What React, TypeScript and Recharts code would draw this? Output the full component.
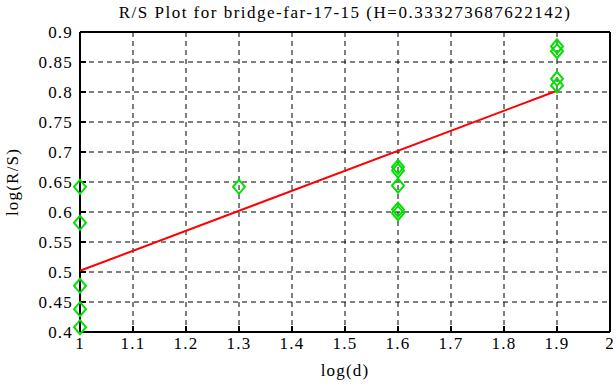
import {
  ComposedChart,
  CartesianGrid,
  Scatter,
  XAxis,
  YAxis,
} from "recharts";

const TITLE = "R/S Plot for bridge-far-17-15 (H=0.333273687622142)";
const X_TICKS = [1, 1.1, 1.2, 1.3, 1.4, 1.5, 1.6, 1.7, 1.8, 1.9, 2];
const Y_TICKS = [0.4, 0.45, 0.5, 0.55, 0.6, 0.65, 0.7, 0.75, 0.8, 0.85, 0.9];

// log(d) and log(R/S) samples
const LOG_D = [1, 1, 1, 1, 1, 1.3, 1.6, 1.6, 1.6, 1.6, 1.6, 1.9, 1.9, 1.9, 1.9];
const LOG_RS = [0.642, 0.582, 0.477, 0.438, 0.408, 0.642, 0.675, 0.669, 0.644, 0.604, 0.598, 0.876, 0.868, 0.822, 0.811];

// least squares fit end points
const FIT_X = [1, 1.9];
const FIT_Y = [0.502, 0.802];

const points = LOG_D.map((x, i) => ({ x, y: LOG_RS[i] }));
const fit = FIT_X.map((x, i) => ({ x, y: FIT_Y[i] }));

const GREEN = "#00e000";
const FONT = "Liberation Serif, Times New Roman, serif";
const textCss = { fontFamily: FONT, letterSpacing: 1.2 };
const tickStyle = { fill: "#000", fontSize: 17, fontFamily: FONT, style: textCss };

const Diamond = (props: any) => {
  const { cx, cy } = props;
  if (cx == null || cy == null) return <g />;
  return (
    <path
      d={`M${cx},${cy - 7} L${cx + 6},${cy} L${cx},${cy + 7} L${cx - 6},${cy} Z`}
      fill="none"
      stroke={GREEN}
      strokeWidth={2}
    />
  );
};

const NoDot = () => <g />;

export default function App() {
  return (
    <div style={{ position: "absolute", left: 0, top: 0, width: 616, height: 387, background: "#fff", fontFamily: FONT }}>
      <ComposedChart width={616} height={387} margin={{ top: 31, right: 5, bottom: 0, left: 0 }} style={{ fontFamily: FONT }}>
        <text x={345} y={18} textAnchor="middle" fontFamily={FONT} fontSize={17} fill="#000" style={{ fontFamily: FONT, letterSpacing: 1.5 }}>
          {TITLE}
        </text>
        <CartesianGrid xAxisId="b" yAxisId="l" stroke="#000" strokeDasharray="5 4" strokeWidth={1} />
        <XAxis
          xAxisId="b"
          type="number"
          dataKey="x"
          domain={[1, 2]}
          ticks={X_TICKS}
          interval={0}
          height={55}
          stroke="#000"
          strokeWidth={2}
          tickSize={-6}
          tickMargin={11}
          tick={tickStyle}
          label={{ value: "log(d)", position: "insideBottom", offset: 11, fill: "#000", fontSize: 17, fontFamily: FONT, style: textCss }}
        />
        <XAxis
          xAxisId="t"
          orientation="top"
          type="number"
          dataKey="x"
          domain={[1, 2]}
          ticks={X_TICKS}
          interval={0}
          height={1}
          stroke="#000"
          strokeWidth={2}
          tickSize={-6}
          tick={false}
        />
        <YAxis
          yAxisId="l"
          type="number"
          dataKey="y"
          domain={[0.4, 0.9]}
          ticks={Y_TICKS}
          interval={0}
          width={80}
          stroke="#000"
          strokeWidth={2}
          tickSize={-6}
          tickMargin={13}
          tick={tickStyle}
          label={{ value: "log(R/S)", angle: -90, position: "insideLeft", offset: 12, fill: "#000", fontSize: 17, fontFamily: FONT, style: { ...textCss, textAnchor: "middle" } }}
        />
        <YAxis
          yAxisId="r"
          orientation="right"
          type="number"
          dataKey="y"
          domain={[0.4, 0.9]}
          ticks={Y_TICKS}
          interval={0}
          width={1}
          stroke="#000"
          strokeWidth={2}
          tickSize={-6}
          tick={false}
        />
        <Scatter xAxisId="t" yAxisId="r" data={fit} shape={NoDot} isAnimationActive={false} />
        <Scatter
          xAxisId="b"
          yAxisId="l"
          data={fit}
          line={{ stroke: "#ff0000", strokeWidth: 2 }}
          shape={NoDot}
          isAnimationActive={false}
        />
        <Scatter xAxisId="b" yAxisId="l" data={points} shape={Diamond} isAnimationActive={false} />
      </ComposedChart>
    </div>
  );
}
